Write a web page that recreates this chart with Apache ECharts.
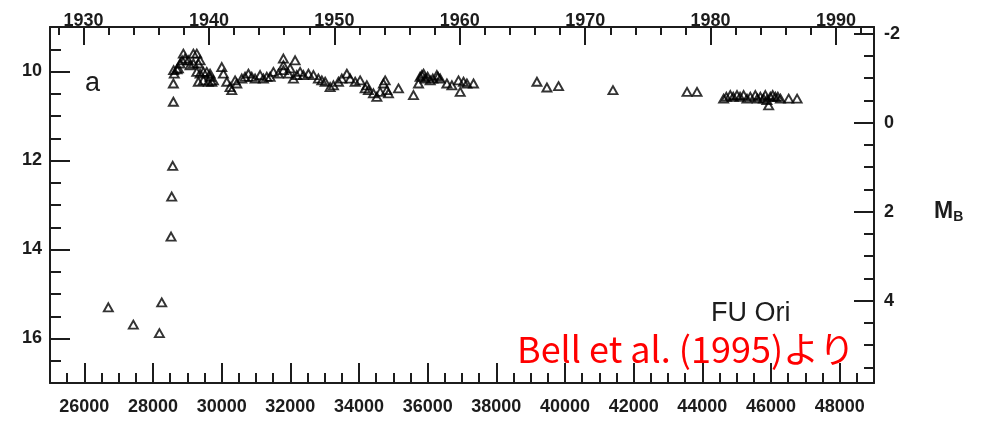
<!DOCTYPE html>
<html>
<head>
<meta charset="utf-8">
<script src="https://cdn.jsdelivr.net/npm/echarts@6/dist/echarts.min.js"></script>
<style>
  html, body { margin: 0; padding: 0; background: #fff; }
  #chart { width: 986px; height: 421px; }
</style>
</head>
<body>
<div id="chart"></div>
<script>
// FU Ori light curve: photographic/visual magnitude against Julian Date (JD - 2400000)
const jdOffsets = [
  26699, 27427, 28186, 28254, 28526, 28545, 28574, 28593, 28593, 28600,
  28620, 28700, 28739, 28788, 28850, 28884, 28934, 29030, 29080, 29176,
  29275, 29176, 29321, 29371, 29275, 29371, 29467, 29565, 29662, 29321,
  29467, 29613, 29712, 29759, 29662, 30003, 30050, 30149, 30245, 30295,
  30391, 30440, 30586, 30682, 30779, 30877, 30974, 31119, 31216, 31315,
  31411, 31507, 31653, 31798, 31798, 31798, 31945, 31994, 32139, 32090,
  32189, 32285, 32381, 32527, 32673, 32818, 32917, 33014, 33159, 33256,
  33401, 33500, 33646, 33742, 33888, 34033, 34229,
  34179, 34275, 34421, 34520, 34616, 34712, 34762, 34811, 34858, 35150,
  35587, 35733, 35780, 35832, 35880, 35928, 36000, 36073, 36150, 36268,
  36300, 36365, 36560, 36706, 36898, 36948, 37044, 37142, 37335,
  39182, 39473, 39812, 41397, 43554, 43845,
  44620, 44700, 44815, 44900, 45010, 45100, 45203, 45300, 45398, 45544,
  45600, 45690, 45780, 45835, 45880, 45932, 45981, 46050, 46127, 46200,
  46273, 46515, 46760
];
const magnitudes = [
  15.30, 15.69, 15.88, 15.19, 13.71, 12.81, 12.12, 10.68, 10.27, 9.97,
  10.05, 9.95, 9.93, 9.82, 9.75, 9.60, 9.71, 9.75, 9.86, 9.60,
  9.60, 9.82, 9.82, 9.75, 10.01, 10.05, 10.01, 10.01, 10.05, 10.23,
  10.20, 10.23, 10.23, 10.20, 10.12, 9.90, 10.05, 10.23, 10.35, 10.42,
  10.20, 10.27, 10.16, 10.12, 10.05, 10.12, 10.16, 10.08, 10.16, 10.12,
  10.12, 10.01, 10.05, 9.71, 9.86, 9.97, 10.05, 9.93, 9.75, 10.16,
  10.08, 10.01, 10.08, 10.05, 10.08, 10.16, 10.20, 10.23, 10.35, 10.31,
  10.23, 10.16, 10.05, 10.16, 10.23, 10.20, 10.31,
  10.38, 10.42, 10.49, 10.57, 10.46, 10.27, 10.20, 10.42, 10.49, 10.38,
  10.53, 10.27, 10.12, 10.08, 10.05, 10.16, 10.12, 10.20, 10.16, 10.08,
  10.12, 10.16, 10.27, 10.31, 10.20, 10.46, 10.23, 10.27, 10.27,
  10.23, 10.36, 10.33, 10.42, 10.46, 10.46,
  10.61, 10.57, 10.53, 10.57, 10.53, 10.57, 10.53, 10.61, 10.57, 10.53,
  10.61, 10.57, 10.61, 10.53, 10.64, 10.76, 10.57, 10.53, 10.57, 10.57,
  10.61, 10.61, 10.61
];

// axis ranges
const jdRange = [25000, 49000];
const magRange = [9, 17];
const distanceModulus = 11.15;          // M_B = m - distanceModulus
const jdOfYear1930 = 25977.5;           // JD - 2400000 at 1930.0
const daysPerYear = 365.25;
const yearRange = jdRange.map(j => 1930 + (j - jdOfYear1930) / daysPerYear);
const absMagRange = magRange.map(m => +(m - distanceModulus).toFixed(3));

const ink = '#1c1c1c';
const plain = v => String(v);
const labelFont = { color: ink, fontSize: 18, fontWeight: 'bold', fontFamily: 'Liberation Sans, Arial, sans-serif', formatter: plain };
const lineStyle = { color: ink, width: 2 };

const points = jdOffsets.map((j, i) => [j, magnitudes[i]]);

const chart = echarts.init(document.getElementById('chart'), null, { renderer: 'canvas' });
chart.setOption({
  animation: false,
  backgroundColor: '#ffffff',
  grid: { left: 50, right: 112, top: 27, bottom: 38, containLabel: false, outerBoundsMode: 'none' },
  xAxis: [
    {
      type: 'value', position: 'bottom',
      min: jdRange[0], max: jdRange[1], minInterval: 2000, maxInterval: 2000,
      axisLine: { show: true, onZero: false, lineStyle },
      axisTick: { show: true, inside: true, length: 20, lineStyle },
      minorTick: { show: true, splitNumber: 4, length: 10, lineStyle },
      splitLine: { show: false }, minorSplitLine: { show: false },
      axisLabel: Object.assign({ margin: 15, showMinLabel: false, showMaxLabel: false }, labelFont)
    },
    {
      type: 'value', position: 'top',
      min: yearRange[0], max: yearRange[1], minInterval: 10, maxInterval: 10,
      axisLine: { show: true, onZero: false, lineStyle },
      axisTick: { show: true, inside: true, length: 18, lineStyle },
      minorTick: { show: true, splitNumber: 5, length: 8, lineStyle },
      splitLine: { show: false }, minorSplitLine: { show: false },
      axisLabel: Object.assign({ margin: -3, showMinLabel: false, showMaxLabel: false }, labelFont)
    }
  ],
  yAxis: [
    {
      type: 'value', position: 'left', inverse: true,
      min: magRange[0], max: magRange[1], minInterval: 2, maxInterval: 2,
      axisLine: { show: true, onZero: false, lineStyle },
      axisTick: { show: true, inside: true, length: 20, lineStyle },
      minorTick: { show: true, splitNumber: 4, length: 11, lineStyle },
      splitLine: { show: false }, minorSplitLine: { show: false },
      axisLabel: Object.assign({ margin: 8, showMinLabel: false, showMaxLabel: false }, labelFont)
    },
    {
      type: 'value', position: 'right', inverse: true,
      min: absMagRange[0], max: absMagRange[1], minInterval: 2, maxInterval: 2,
      axisLine: { show: true, onZero: false, lineStyle },
      axisTick: { show: true, inside: true, length: 20, lineStyle },
      minorTick: { show: true, splitNumber: 4, length: 10, lineStyle },
      splitLine: { show: false }, minorSplitLine: { show: false },
      axisLabel: Object.assign({ margin: 10, showMinLabel: false, showMaxLabel: false }, labelFont),
      name: '{m|M}{b|B}',
      nameLocation: 'middle', nameRotate: 0, nameGap: 60,
      nameTextStyle: {
        padding: [14, 0, 0, 0],
        rich: {
          m: { fontSize: 23, lineHeight: 24, color: ink, fontWeight: 'bold', fontFamily: 'Liberation Sans, Arial, sans-serif' },
          b: { fontSize: 14, lineHeight: 14, color: ink, fontWeight: 'bold', verticalAlign: 'bottom', fontFamily: 'Liberation Sans, Arial, sans-serif' }
        }
      }
    }
  ],
  series: [{
    type: 'scatter',
    xAxisIndex: 0, yAxisIndex: 0,
    data: points,
    symbol: 'triangle',
    symbolSize: [9, 8],
    itemStyle: { color: 'rgba(255,255,255,0)', borderColor: '#000', borderWidth: 1.9 },
    silent: true
  }],
  graphic: [
    { type: 'text', left: 85, top: 70, style: { text: 'a', fill: ink, font: '27px "Liberation Sans", Arial, sans-serif' } },
    { type: 'text', left: 711, top: 300, style: { text: 'FU Ori', fill: ink, font: '27px "Liberation Sans", Arial, sans-serif' } },
    { type: 'text', left: 517, top: 331, style: { text: 'Bell et al. (1995)より', fill: '#ff0000', font: '36px "Noto Sans CJK JP", sans-serif' } }
  ]
});
</script>
</body>
</html>
